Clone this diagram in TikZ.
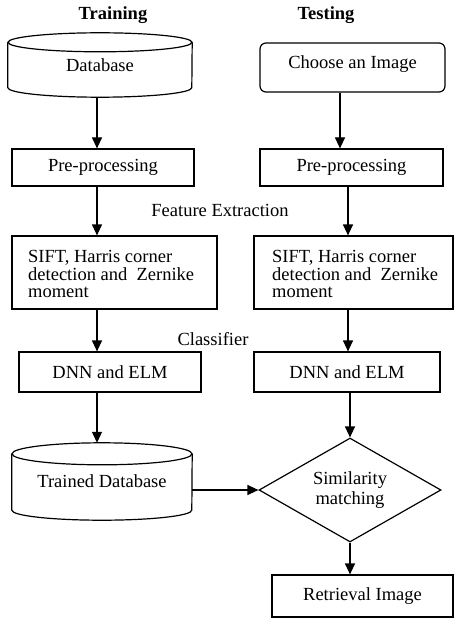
\documentclass[tikz,border=0pt]{standalone}
\usepackage{fontspec}
\setmainfont{Liberation Serif}
\usetikzlibrary{arrows.meta,shapes.geometric,calc}
\begin{document}
\begin{tikzpicture}[x=1pt,y=1pt,
  font=\fontsize{18.5}{17.5}\selectfont,
  box/.style={draw, line width=1.2pt, inner sep=0pt},
  plain/.style={inner sep=0pt},
  outline/.style={line width=1.2pt},
  arr/.style={line width=1.2pt, -{Triangle[length=11pt,width=10pt]}},
  ttl/.style={font=\fontsize{18.5}{18}\selectfont\bfseries},
  lbl/.style={inner sep=1pt},
]
\useasboundingbox[fill=white] (0,0) rectangle (465,-628);

\node[ttl] (t1) at (113,-15) {Training};
\node[ttl] (t2) at (326,-15) {Testing};

% Database cylinder
\node[plain, minimum width=184pt, minimum height=64pt] (db) at (100,-65) {Database};
\draw[outline] ([yshift=-9.5pt]db.north) ellipse [x radius=92pt, y radius=9.5pt];
\draw[outline] ([yshift=-9.5pt]db.north west) -- ([yshift=9.5pt]db.south west)
  arc [start angle=180, end angle=360, x radius=92pt, y radius=9.5pt]
  -- ([yshift=-9.5pt]db.north east);

\node[box, rounded corners=6pt, minimum width=185pt, minimum height=49pt] (ch) at (352.5,-67.5) {};
\node[plain] (cht) at (352.5,-64.5) {Choose an Image};

\node[box, minimum width=182pt, minimum height=37pt] (pre1) at (103,-167.5) {Pre-processing};
\node[box, minimum width=183pt, minimum height=37pt] (pre2) at (351.5,-167.5) {Pre-processing};

\node[box, minimum width=205pt, minimum height=73pt] (sift1) at (114.5,-272.5) {};
\node[plain, anchor=west, align=left] (sift1t) at (28,-274)
  {SIFT, Harris corner\\detection and~ Zernike\\moment};
\node[box, minimum width=199pt, minimum height=73pt] (sift2) at (353.5,-272.5) {};
\node[plain, anchor=west, align=left] (sift2t) at (272,-274)
  {SIFT, Harris corner\\detection and~ Zernike\\moment};

\node[box, minimum width=182pt, minimum height=40pt] (dnn1) at (110,-372) {DNN and ELM};
\node[box, minimum width=186pt, minimum height=40pt] (dnn2) at (347,-372) {DNN and ELM};

% Trained database cylinder
\node[plain, minimum width=180pt, minimum height=77pt] (tdb) at (102,-481.5) {Trained Database};
\draw[outline] ([yshift=-11pt]tdb.north) ellipse [x radius=90pt, y radius=11pt];
\draw[outline] ([yshift=-11pt]tdb.north west) -- ([yshift=10pt]tdb.south west)
  arc [start angle=180, end angle=360, x radius=90pt, y radius=10pt]
  -- ([yshift=-11pt]tdb.north east);

\node[draw, line width=1.2pt, diamond, aspect=1.75, inner sep=0pt, minimum width=182pt,
  minimum height=104pt, align=center, font=\fontsize{18.5}{20}\selectfont] (dia) at (350,-490)
  {Similarity\\matching};

\node[box, minimum width=181pt, minimum height=42pt] (ret) at (362.5,-596) {Retrieval Image};

\node[lbl] (fe) at (220,-210) {Feature Extraction};
\node[lbl] (cl) at (213,-339) {Classifier};

\coordinate (L) at (97,0);
\coordinate (R1) at (340,0);
\coordinate (R) at (348,0);

\draw[arr] (db.south -| L) -- (pre1.north -| L);
\draw[arr] (pre1.south -| L) -- (sift1.north -| L);
\draw[arr] (sift1.south -| L) -- (dnn1.north -| L);
\draw[arr] (dnn1.south -| L) -- (tdb.north -| L);

\draw[arr] (ch.south -| R1) -- (pre2.north -| R1);
\draw[arr] (pre2.south -| R) -- (sift2.north -| R);
\draw[arr] (sift2.south -| R) -- (dnn2.north -| R);
\draw[arr] (dnn2.south -| dia.north) -- (dia.north);
\draw[arr] (dia.south) -- (dia.south |- ret.north);
\draw[arr] (tdb.east |- dia.west) -- (dia.west);
\end{tikzpicture}
\end{document}
